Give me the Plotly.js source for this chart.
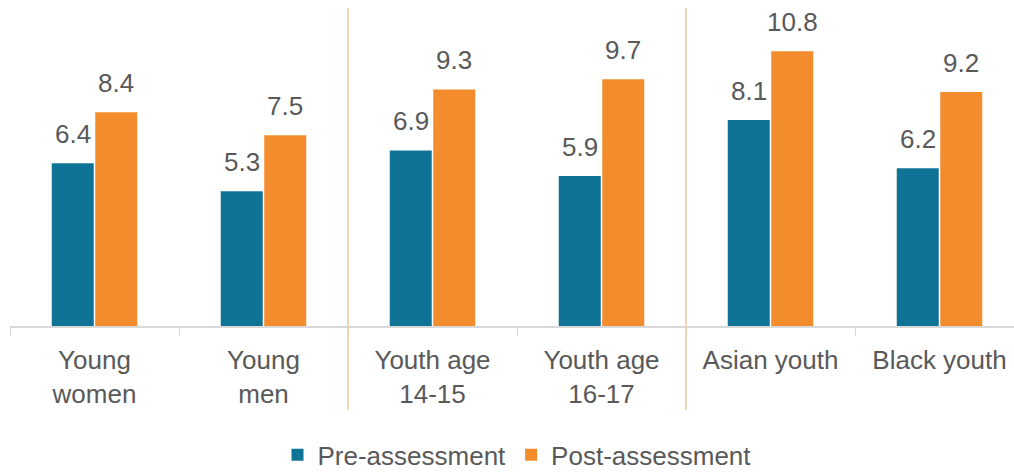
<!DOCTYPE html>
<html>
<head>
<meta charset="utf-8">
<script src="https://cdn.plot.ly/plotly-3.0.1.min.js"></script>
<style>html,body{margin:0;padding:0;overflow:hidden;background:#fff;}#chart{width:1026px;height:472px;}</style>
</head>
<body>
<div id="chart"></div>
<script>
const categories = ["Young<br>women", "Young<br>men", "Youth age<br>14-15", "Youth age<br>16-17", "Asian youth", "Black youth"];
const preValues = [6.4, 5.3, 6.9, 5.9, 8.1, 6.2];
const postValues = [8.4, 7.5, 9.3, 9.7, 10.8, 9.2];
const seriesNames = ["Pre-assessment", "Post-assessment"];
const colors = ["#0f7396", "#f28c2c"];

const txtFont = {family: "Liberation Sans, Arial, sans-serif", size: 26, color: "#595959"};

const traces = [
  {type: "bar", name: seriesNames[0], x: categories, y: preValues, marker: {color: colors[0]}, hoverinfo: "none"},
  {type: "bar", name: seriesNames[1], x: categories, y: postValues, marker: {color: colors[1]}, hoverinfo: "none"}
];

const annotations = [];
[preValues, postValues].forEach((vals, s) => {
  vals.forEach((v, i) => {
    annotations.push({x: categories[i], y: v, xref: "x", yref: "y", text: v.toFixed(1), showarrow: false,
      xanchor: "center", yanchor: "bottom", xshift: s === 0 ? -21.75 : 21.75, yshift: 12, font: txtFont});
  });
});

const layout = {
  width: 1026, height: 472,
  margin: {l: 10, r: 2, t: 8, b: 146, autoexpand: false},
  barmode: "group", bargap: 0.485, bargroupgap: 0.035,
  paper_bgcolor: "#fff", plot_bgcolor: "#fff",
  font: txtFont,
  showlegend: true,
  legend: {orientation: "h", x: 0.5, xanchor: "center", y: -0.405, yanchor: "middle", font: txtFont, itemwidth: 30,
           traceorder: "normal", tracegroupgap: 0, borderwidth: 0},
  xaxis: {type: "category", showline: true, linecolor: "#d9d9d9", linewidth: 1.5, ticks: "outside", tickson: "boundaries",
          ticklen: 8, tickcolor: "#d9d9d9", tickfont: txtFont, ticklabelstandoff: 10, automargin: false,
          showgrid: false, zeroline: false, fixedrange: true},
  yaxis: {range: [0, 12.5], visible: false, showgrid: false, zeroline: false, fixedrange: true},
  annotations: annotations,
  shapes: [1.5, 3.5].map(p => ({type: "line", xref: "x", yref: "paper", x0: p, x1: p, y0: -0.264, y1: 1,
          line: {color: "#efc9a0", width: 1.5}}))
};

Plotly.newPlot("chart", traces, layout, {displayModeBar: false, staticPlot: true});
</script>
</body>
</html>
